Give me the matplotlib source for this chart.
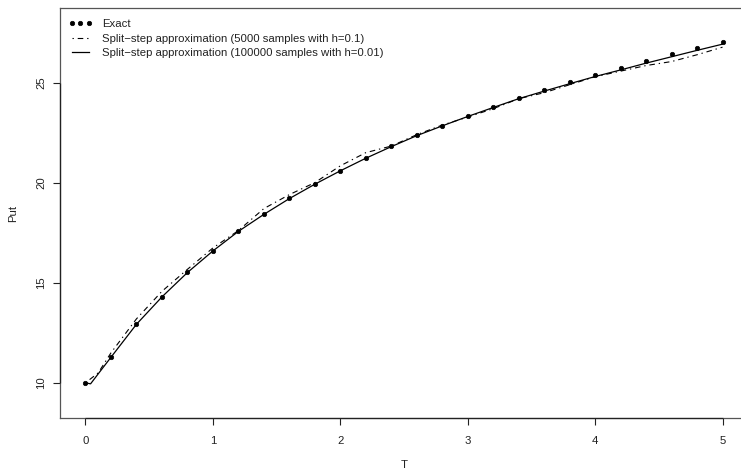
import numpy as np
import matplotlib.pyplot as plt

plt.rcParams['font.family'] = ['Liberation Sans', 'DejaVu Sans']

# exact put prices on a coarse grid of maturities
t_exact = [0.0, 0.2, 0.4, 0.6, 0.8, 1.0, 1.2, 1.4, 1.6, 1.8, 2.0, 2.2, 2.4,
           2.6, 2.8, 3.0, 3.2, 3.4, 3.6, 3.8, 4.0, 4.2, 4.4, 4.6, 4.8, 5.0]
put_exact = [10.00, 11.28, 12.93, 14.31, 15.53, 16.60, 17.58, 18.43, 19.23,
             19.95, 20.62, 21.24, 21.83, 22.39, 22.87, 23.36, 23.81, 24.25,
             24.67, 25.05, 25.42, 25.77, 26.12, 26.44, 26.76, 27.04]

# split-step, 5000 samples, h=0.1
t_coarse = [0.0, 0.1, 0.2, 0.4, 0.6, 0.8, 1.0, 1.2, 1.4, 1.6, 1.8, 2.0, 2.2,
            2.4, 2.6, 2.8, 3.0, 3.2, 3.4, 3.6, 3.8, 4.0, 4.2, 4.4, 4.6, 4.8, 5.0]
put_coarse = [10.00, 10.50, 11.50, 13.20, 14.58, 15.68, 16.75, 17.62, 18.72,
              19.42, 20.02, 20.86, 21.52, 21.85, 22.42, 22.90, 23.30, 23.72,
              24.22, 24.52, 24.92, 25.32, 25.60, 25.88, 26.08, 26.42, 26.80]

# split-step, 100000 samples, h=0.01
t_fine = [0.0, 0.04, 0.1, 0.2, 0.4, 0.6, 0.8, 1.0, 1.2, 1.4, 1.6, 1.8, 2.0,
          2.2, 2.4, 2.6, 2.8, 3.0, 3.2, 3.4, 3.6, 3.8, 4.0, 4.2, 4.4, 4.6,
          4.8, 5.0]
put_fine = [10.00, 9.95, 10.45, 11.28, 12.93, 14.30, 15.52, 16.60, 17.58,
            18.43, 19.22, 19.94, 20.61, 21.24, 21.82, 22.37, 22.86, 23.33,
            23.78, 24.22, 24.60, 24.97, 25.33, 25.66, 26.00, 26.32, 26.64,
            26.95]

x_ticks = [0, 1, 2, 3, 4, 5]
y_ticks = [10, 15, 20, 25]
xlim = (-0.2, 5.2)
ylim = (8.24, 28.76)

W, H = 741, 472
fig = plt.figure(figsize=(W / 100, H / 100), dpi=100)
ax = fig.add_axes([60 / W, 54 / H, 688 / W, 410 / H])

ax.plot(t_exact, put_exact, linestyle='none', marker='o', markersize=3.2,
        markeredgewidth=0.5, color='black', label='Exact')
ax.plot(t_coarse, put_coarse, color='black', linewidth=0.8,
        dashes=(1.2, 3.5, 5, 3.5),
        label='Split\u2212step approximation (5000 samples with h=0.1)')
ax.plot(t_fine, put_fine, color='black', linewidth=0.9,
        label='Split\u2212step approximation (100000 samples with h=0.01)')

ax.set_xlim(*xlim)
ax.set_ylim(*ylim)

for s in ax.spines.values():
    s.set_color('#555555')
    s.set_linewidth(0.9)
ax.spines['right'].set_visible(False)

# axis lines between first and last tick, drawn over the gray box
ax.plot([x_ticks[0], x_ticks[-1]], [ylim[0], ylim[0]], color='#222222',
        lw=0.9, clip_on=False, solid_capstyle='butt', zorder=3)
ax.plot([xlim[0], xlim[0]], [y_ticks[0], y_ticks[-1]], color='#222222',
        lw=0.9, clip_on=False, solid_capstyle='butt', zorder=3)

ax.set_xticks(x_ticks)
ax.set_yticks(y_ticks)
ax.set_yticklabels([str(v) for v in y_ticks], rotation=90, va='center')
ax.tick_params(direction='out', length=5, width=0.8, color='#222222',
               labelsize=8.2, labelcolor='#222222')
ax.tick_params(axis='x', pad=8)
ax.tick_params(axis='y', pad=5)

ax.set_xlabel('T', fontsize=8.2, labelpad=10, color='#222222')
ax.set_ylabel('Put', fontsize=8.2, labelpad=13, color='#222222')

ax.legend(loc='upper left', bbox_to_anchor=(0.012, 0.972), frameon=False,
          numpoints=3, fontsize=8.2, handlelength=2.1, handletextpad=0.85,
          labelspacing=0.36, borderpad=0, borderaxespad=0,
          labelcolor='#222222')

fig.savefig('out.png', dpi=100)
